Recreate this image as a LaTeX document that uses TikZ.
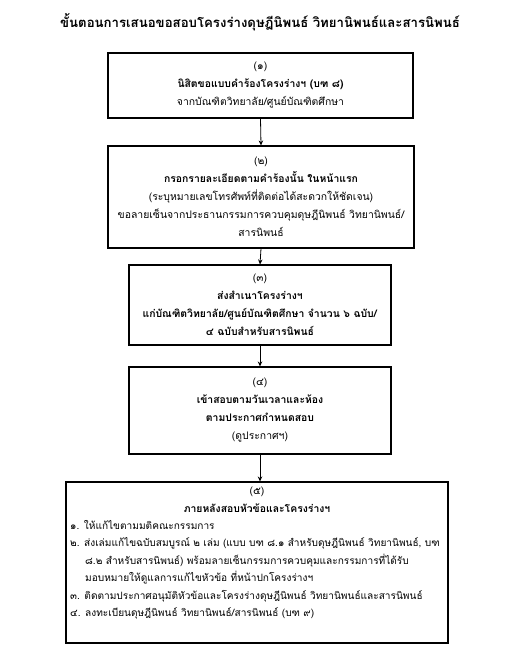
\documentclass[tikz,border=0pt]{standalone}
\usepackage{fontspec}
\setmainfont[Script=Thai]{Loma}
\usetikzlibrary{arrows.meta}
\tikzset{
  stepbox/.style={draw=black, line width=1.1pt, rectangle, inner sep=0pt, align=center,
    font=\fontsize{10.4}{18}\selectfont},
  flow/.style={line width=0.8pt, -{Stealth[length=5pt,width=4.5pt]}},
  titletext/.style={font=\fontsize{13.2}{16}\selectfont\bfseries},
  listtext/.style={anchor=north west, inner sep=0pt, align=left,
    font=\fontsize{10.1}{17.5}\selectfont}
}
\begin{document}
\begin{tikzpicture}[x=1pt,y=-1pt]
\useasboundingbox (0,0) rectangle (508,666);
\node[titletext] (title) at (260,22) {ขั้นตอนการเสนอขอสอบโครงร่างดุษฎีนิพนธ์ วิทยานิพนธ์และสารนิพนธ์};

\node[stepbox, minimum width=305pt, minimum height=65pt] (b1) at (260.5,85.5)
 {(๑)\\ \textbf{นิสิตขอแบบคำร้องโครงร่างฯ (บฑ ๘)}\\ จากบัณฑิตวิทยาลัย/ศูนย์บัณฑิตศึกษา};

\node[stepbox, minimum width=306pt, minimum height=102pt] (b2) at (261,197)
 {(๒)\\ \textbf{กรอกรายละเอียดตามคำร้องนั้น ในหน้าแรก}\\ (ระบุหมายเลขโทรศัพท์ที่ติดต่อได้สะดวกให้ชัดเจน)\\ ขอลายเซ็นจากประธานกรรมการควบคุมดุษฎีนิพนธ์ วิทยานิพนธ์/\\ สารนิพนธ์};

\node[stepbox, minimum width=262pt, minimum height=80pt] (b3) at (260,305)
 {(๓)\\ \textbf{ส่งสำเนาโครงร่างฯ}\\ \textbf{แก่บัณฑิตวิทยาลัย/ศูนย์บัณฑิตศึกษา จำนวน ๖ ฉบับ/}\\ \textbf{๔ ฉบับสำหรับสารนิพนธ์}};

\node[stepbox, minimum width=262pt, minimum height=87pt] (b4) at (260,410.5)
 {(๔)\\ \textbf{เข้าสอบตามวันเวลาและห้อง}\\ \textbf{ตามประกาศกำหนดสอบ}\\ (ดูประกาศฯ)};

\node[stepbox, minimum width=382pt, minimum height=161pt] (b5) at (257,562.5) {};
\node[stepbox, draw=none, anchor=north] (b5head) at (257,486) {(๕)\\ \textbf{ภายหลังสอบหัวข้อและโครงร่างฯ}};
\node[listtext] (b5list) at (70,520)
 {๑. ให้แก้ไขตามมติคณะกรรมการ\\
  ๒. ส่งเล่มแก้ไขฉบับสมบูรณ์ ๒ เล่ม (แบบ บฑ ๘.๑ สำหรับดุษฎีนิพนธ์ วิทยานิพนธ์, บฑ\\
  \hspace*{15pt}๘.๒ สำหรับสารนิพนธ์) พร้อมลายเซ็นกรรมการควบคุมและกรรมการที่ได้รับ\\
  \hspace*{15pt}มอบหมายให้ดูแลการแก้ไขหัวข้อ ที่หน้าปกโครงร่างฯ\\
  ๓. ติดตามประกาศอนุมัติหัวข้อและโครงร่างดุษฎีนิพนธ์ วิทยานิพนธ์และสารนิพนธ์\\
  ๔. ลงทะเบียนดุษฎีนิพนธ์ วิทยานิพนธ์/สารนิพนธ์ (บฑ ๙)};

\draw[flow] (b1.south) -- (b2.north);
\draw[flow] (b2.south) -- (b3.north);
\draw[flow] (b3.south) -- (b4.north);
\draw[flow] (b4.south) -- (b5.north -| b4.south);
\end{tikzpicture}
\end{document}
